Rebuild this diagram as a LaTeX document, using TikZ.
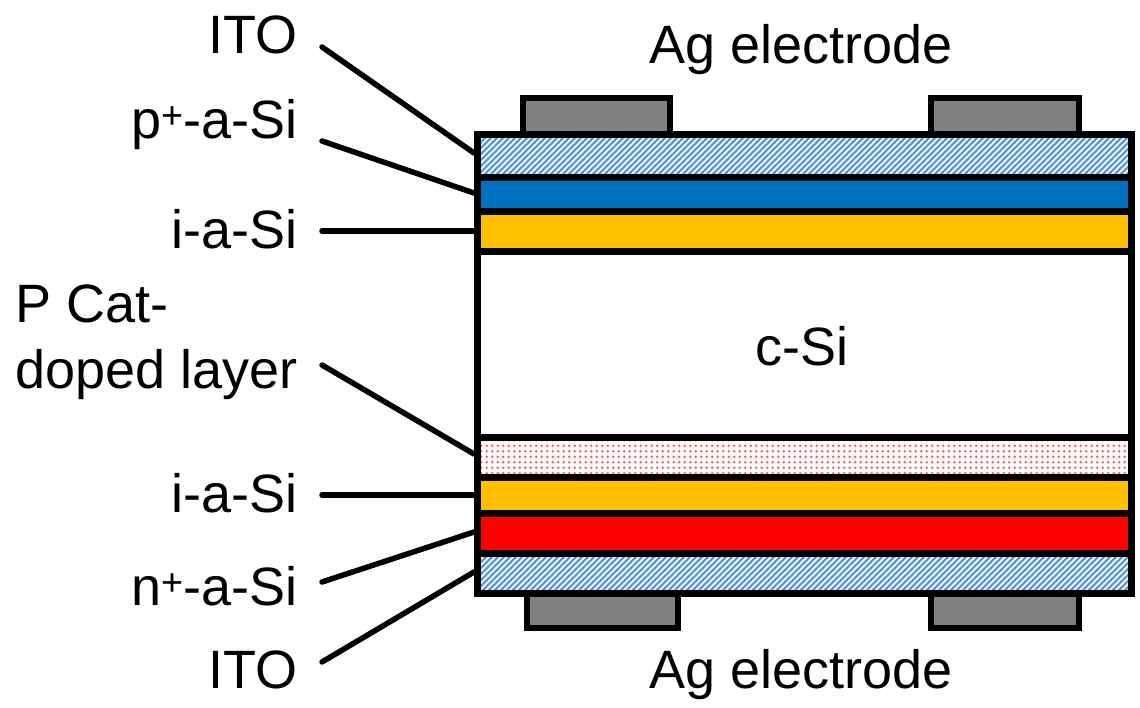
\documentclass[tikz,border=0pt]{standalone}
\usepackage{fontspec}
\setmainfont{Liberation Sans}
\usetikzlibrary{patterns}
\pgfdeclarepatternformonly{itohatch}{\pgfqpoint{-1pt}{-1pt}}{\pgfqpoint{7pt}{7pt}}{\pgfqpoint{6pt}{6pt}}{%
  \pgfsetlinewidth{2.2pt}%
  \pgfpathmoveto{\pgfqpoint{-1pt}{-1pt}}%
  \pgfpathlineto{\pgfqpoint{7pt}{7pt}}%
  \pgfusepath{stroke}}
\pgfdeclarepatternformonly{pdots}{\pgfqpoint{-1pt}{-1pt}}{\pgfqpoint{7pt}{7pt}}{\pgfqpoint{5.5pt}{5.5pt}}{%
  \pgfpathcircle{\pgfqpoint{2.75pt}{2.75pt}}{1.35pt}%
  \pgfusepath{fill}}
\definecolor{itoblue}{HTML}{5B9BD5}
\definecolor{pblue}{HTML}{0070C0}
\definecolor{iyellow}{HTML}{FFC000}
\definecolor{nred}{HTML}{FF0000}
\definecolor{aggray}{HTML}{808080}
\definecolor{dotred}{HTML}{FF5A5A}
\begin{document}
\begin{tikzpicture}[x=1pt,y=-1pt,
  lbl/.style={font=\fontsize{54}{60}\selectfont, inner sep=0pt},
  leader/.style={line width=5.5pt, line cap=round},
  electrode/.style={fill=aggray, draw=black, line width=6pt},
  sep/.style={line width=7pt}]
\useasboundingbox (0,0) rectangle (1140,707);
\fill[white] (0,0) rectangle (1140,707);
% electrodes
\draw[electrode] (523,134) rectangle (670,98);
\draw[electrode] (931,134) rectangle (1079,98);
\draw[electrode] (527,593.5) rectangle (678,628);
\draw[electrode] (931,593.5) rectangle (1079,628);
% layers
\fill[white] (477.5,134) rectangle (1131.5,593.5);
\fill[pattern=itohatch, pattern color=itoblue] (477.5,134) rectangle (1131.5,177.5);
\fill[pblue] (477.5,177.5) rectangle (1131.5,211.5);
\fill[iyellow] (477.5,211.5) rectangle (1131.5,251);
\fill[pattern=pdots, pattern color=dotred] (477.5,437) rectangle (1131.5,477);
\fill[iyellow] (477.5,477) rectangle (1131.5,513.5);
\fill[nred] (477.5,513.5) rectangle (1131.5,553.5);
\fill[pattern=itohatch, pattern color=itoblue] (477.5,553.5) rectangle (1131.5,593.5);
\foreach \yy in {177.5,211.5,251,437,477,513.5,553.5}
  \draw[sep] (477.5,\yy) -- (1131.5,\yy);
\draw[sep] (477.5,134) rectangle (1131.5,593.5);
% labels
\node[lbl, anchor=base east] (ito1) at (298,53) {ITO};
\node[lbl, anchor=base east] (pa) at (298,138) {p\textsuperscript{+}-a-Si};
\node[lbl, anchor=base east] (ia1) at (298,248) {i-a-Si};
\node[lbl, anchor=base west] (pc1) at (15,322) {P Cat-};
\node[lbl, anchor=base west] (pc2) at (15,388) {doped layer};
\node[lbl, anchor=base east] (ia2) at (298,512) {i-a-Si};
\node[lbl, anchor=base east] (na) at (298,605) {n\textsuperscript{+}-a-Si};
\node[lbl, anchor=base east] (ito2) at (298,688) {ITO};
\node[lbl, anchor=base] (agt) at (801,63) {Ag electrode};
\node[lbl, anchor=base] (agb) at (801,688) {Ag electrode};
\node[lbl, anchor=base] (csi) at (802,365) {c-Si};
% leader coordinates
\coordinate (s1) at (322,47);  \coordinate (e1) at (474,153);
\coordinate (s2) at (322,141); \coordinate (e2) at (474,193);
\coordinate (s3) at (322,231); \coordinate (e3) at (474,231);
\coordinate (s4) at (322,365); \coordinate (e4) at (474,454);
\coordinate (s5) at (322,495); \coordinate (e5) at (474,495);
\coordinate (s6) at (322,582); \coordinate (e6) at (474,532);
\coordinate (s7) at (322,662); \coordinate (e7) at (474,572);
\foreach \i in {1,...,7}
  \draw[leader] (s\i) -- (e\i);
\end{tikzpicture}
\end{document}
